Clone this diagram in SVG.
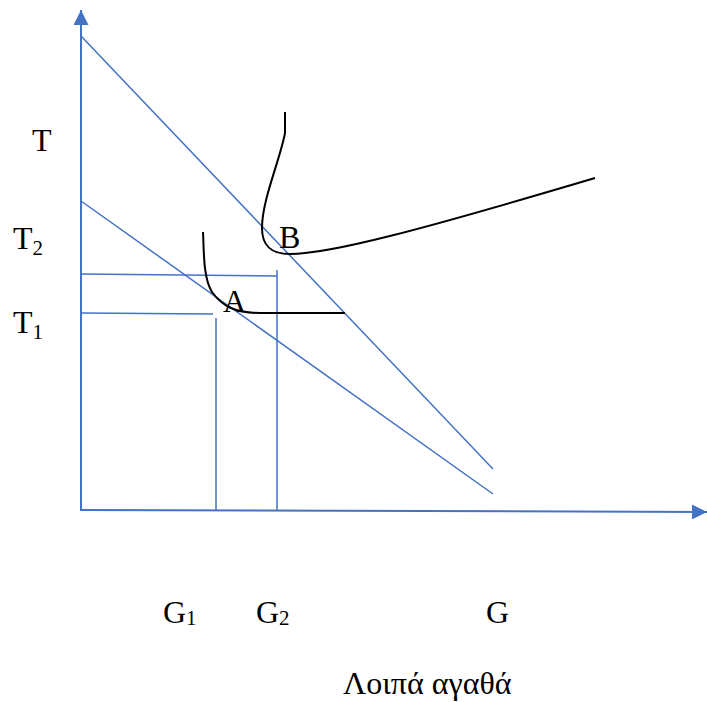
<svg xmlns="http://www.w3.org/2000/svg" width="707" height="702" viewBox="0 0 707 702">
<style>
.b{stroke:#4472C4;stroke-width:1.5;fill:none}
.ax{stroke:#4472C4;stroke-width:2;fill:none}
.c{stroke:#000;stroke-width:2;fill:none}
text{font-family:"Liberation Serif","Times New Roman",serif;font-size:32px;fill:#000}
.s{font-size:21px}
</style>
<defs>
<marker id="ar" viewBox="0 0 10 10" refX="10" refY="5" markerWidth="7.5" markerHeight="7.5" orient="auto" markerUnits="strokeWidth">
<path d="M0,0 L10,5 L0,10 Z" fill="#4472C4"/>
</marker>
</defs>
<g id="connectors">
<line class="ax" x1="81" y1="511" x2="81" y2="10" marker-end="url(#ar)"/>
<line class="ax" x1="81" y1="510" x2="707" y2="512" marker-end="url(#ar)"/>
<line class="b" x1="81" y1="36" x2="493" y2="469"/>
<line class="b" x1="81" y1="201" x2="493" y2="494"/>
<polyline class="b" points="81,274 277,276"/>
<line class="b" x1="277" y1="270" x2="277" y2="511"/>
<line class="b" x1="82" y1="313" x2="213" y2="314"/>
<line class="b" x1="216" y1="318" x2="216" y2="511"/>
</g>
<g id="curveB">
<path class="c" d="M285,112 L285,133 C280,160 262,200 262,228 C262,245 270,254 290,254 C330,254 420,230 595,178"/>
</g>
<g id="curveA">
<path class="c" d="M203,232 C204,250 203,278 212,292 C222,306 235,313 260,313 L345,313"/>
</g>
<g id="labels">
<text x="32" y="151">T</text>
<text x="13" y="249">T<tspan class="s" dy="6">2</tspan></text>
<text x="13" y="333">T<tspan class="s" dy="6">1</tspan></text>
<text x="279" y="248">B</text>
<text x="223" y="312">A</text>
<text x="163" y="623">G<tspan class="s" dy="2">1</tspan></text>
<text x="256" y="623">G<tspan class="s" dy="2">2</tspan></text>
<text x="486" y="623">G</text>
<text x="343" y="694">Λοιπά αγαθά</text>
</g>
</svg>
